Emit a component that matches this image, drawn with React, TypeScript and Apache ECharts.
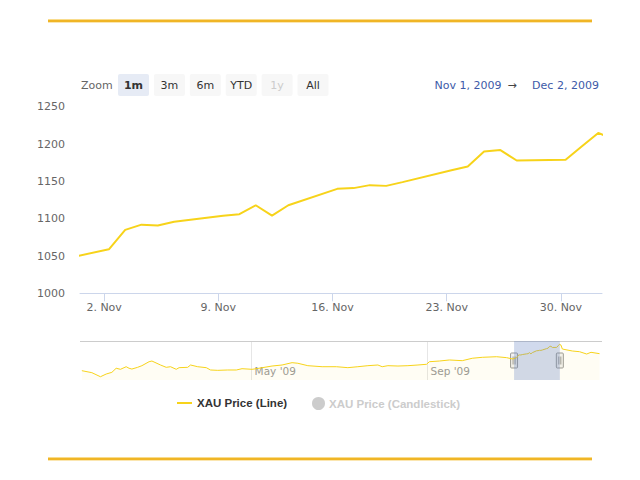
import React, { useEffect, useRef } from 'react';
import * as echarts from 'echarts';

// ---------- data ----------
// history shown only in the navigator strip (Jan–Oct 2009)
const historyDates = [
  '2009-01-02', '2009-01-09', '2009-01-15', '2009-01-19', '2009-01-23', '2009-01-26', '2009-01-29',
  '2009-02-02', '2009-02-04', '2009-02-06', '2009-02-10', '2009-02-13', '2009-02-18', '2009-02-20', '2009-02-26',
  '2009-03-02', '2009-03-05', '2009-03-09', '2009-03-11', '2009-03-17', '2009-03-19', '2009-03-24', '2009-03-30',
  '2009-04-02', '2009-04-07', '2009-04-14', '2009-04-20', '2009-04-24',
  '2009-05-01', '2009-05-04', '2009-05-15', '2009-05-22', '2009-05-29',
  '2009-06-02', '2009-06-09', '2009-06-19', '2009-06-29',
  '2009-07-07', '2009-07-14', '2009-07-21', '2009-07-28', '2009-07-31',
  '2009-08-04', '2009-08-11', '2009-08-18', '2009-08-25', '2009-08-31',
  '2009-09-02', '2009-09-09', '2009-09-16', '2009-09-25',
  '2009-10-02', '2009-10-09', '2009-10-19', '2009-10-26',
];
const historyValues = [
  909, 886, 839, 870, 890, 937, 925,
  955, 937, 928, 948, 967, 1013, 1021, 975,
  948, 955, 925, 944, 948, 975, 955, 944,
  917, 913, 917, 917, 932,
  925, 932, 963, 975, 1002,
  995, 967, 955, 955,
  944, 955, 967, 975, 955,
  967, 963, 967, 975, 983,
  1013, 1021, 1033, 1025,
  1053, 1064, 1071, 1060,
];
// daily prices around the selected month (Nov 1 – Dec 2, 2009)
const monthDates = [
  '2009-10-30', '2009-11-02', '2009-11-03', '2009-11-04', '2009-11-05', '2009-11-06',
  '2009-11-09', '2009-11-10', '2009-11-11', '2009-11-12', '2009-11-13',
  '2009-11-16', '2009-11-17', '2009-11-18', '2009-11-19', '2009-11-20',
  '2009-11-23', '2009-11-24', '2009-11-25', '2009-11-26', '2009-11-27',
  '2009-11-30', '2009-12-01', '2009-12-02', '2009-12-03',
];
const monthValues = [
  1045, 1059, 1085, 1092, 1091, 1096,
  1104, 1106, 1118, 1104, 1118,
  1140, 1141, 1145, 1144, 1149,
  1165, 1170, 1190, 1192, 1178,
  1179, 1197, 1215, 1206,
];
// rest of December (navigator only)
const tailDates = ['2009-12-04', '2009-12-11', '2009-12-16', '2009-12-21', '2009-12-24', '2009-12-30'];
const tailValues = [1160, 1137, 1129, 1102, 1122, 1106];

const weekTicks = ['2009-11-02', '2009-11-09', '2009-11-16', '2009-11-23', '2009-11-30'];
const navigatorTicks = ['2009-05-01', '2009-09-01'];
const yMin = 1000;
const yMax = 1250;
const yStep = 50;
const windowStart = '2009-10-31T12:30:00Z';
const windowEnd = '2009-12-02T12:30:00Z';
const navStart = '2009-01-01T00:00:00Z';
const navEnd = '2010-01-01T00:00:00Z';
const navMin = 801;
const navMax = 1253;
const rangeButtons = ['1m', '3m', '6m', 'YTD', '1y', 'All'];
const rangeSelected = '1m';
const rangeDisabled = '1y';
const rangeFrom = 'Nov 1, 2009';
const rangeTo = 'Dec 2, 2009';
const lineName = 'XAU Price (Line)';
const candleName = 'XAU Price (Candlestick)';

// ---------- styles ----------
const LINE_COLOR = '#f7d31a';
const FONT = "'DejaVu Sans', sans-serif";
const LEGEND_FONT = "'Liberation Sans', Arial, sans-serif";
const MONTHS = ['Jan', 'Feb', 'Mar', 'Apr', 'May', 'Jun', 'Jul', 'Aug', 'Sep', 'Oct', 'Nov', 'Dec'];
const POINT_HOUR = 'T07:00:00Z';

const toTime = (d: string) => Date.parse(d + POINT_HOUR);
const dayTime = (d: string) => Date.parse(d + 'T00:00:00Z');

export default function App() {
  const ref = useRef<HTMLDivElement>(null);

  useEffect(() => {
    if (!ref.current) return;
    const chart = echarts.init(ref.current, undefined, { renderer: 'svg' });

    const allDates = [...historyDates, ...monthDates, ...tailDates];
    const allValues = [...historyValues, ...monthValues, ...tailValues];
    const seriesData = allDates.map((d, i) => [toTime(d), allValues[i]]);

    const option: any = {
      animation: false,
      backgroundColor: '#ffffff',
      textStyle: { fontFamily: FONT },
      grid: [
        { left: 80, right: 38, top: 106.8, height: 186.5 },
        { left: 80, right: 38, top: 341, height: 39 },
      ],
      xAxis: [
        {
          type: 'value',
          gridIndex: 0,
          min: Date.parse(windowStart),
          max: Date.parse(windowEnd),
          axisLine: { show: true, lineStyle: { color: '#ccd6eb', width: 1 } },
          axisTick: { show: true, length: 8, lineStyle: { color: '#ccd6eb' }, customValues: weekTicks.map(dayTime) },
          axisLabel: {
            customValues: weekTicks.map(dayTime),
            color: '#666666',
            fontSize: 11,
            fontFamily: FONT,
            margin: 9,
            formatter: (v: number) => {
              const d = new Date(v);
              return d.getUTCDate() + '. ' + MONTHS[d.getUTCMonth()];
            },
          },
          splitLine: { show: false },
        },
        {
          type: 'value',
          gridIndex: 1,
          min: Date.parse(navStart),
          max: Date.parse(navEnd),
          axisLine: { show: false },
          axisTick: { show: false, customValues: navigatorTicks.map(dayTime) },
          axisLabel: {
            customValues: navigatorTicks.map(dayTime),
            inside: true,
            margin: 9,
            align: 'left',
            verticalAlign: 'middle',
            padding: [0, 0, 0, 3],
            color: '#999999',
            fontSize: 10.5,
            fontFamily: FONT,
            formatter: (v: number) => {
              const d = new Date(v);
              return MONTHS[d.getUTCMonth()] + " '" + String(d.getUTCFullYear()).slice(2);
            },
          },
          splitLine: { show: true, lineStyle: { color: '#e6e6e6', width: 1 } },
        },
      ],
      yAxis: [
        {
          type: 'value',
          gridIndex: 0,
          min: yMin,
          max: yMax,
          interval: yStep,
          axisLine: { show: false },
          axisTick: { show: false },
          splitLine: { show: false },
          axisLabel: { color: '#666666', fontSize: 11, fontFamily: FONT, margin: 15, formatter: (v: number) => String(v) },
        },
        {
          type: 'value',
          gridIndex: 1,
          min: navMin,
          max: navMax,
          show: false,
          splitLine: { show: false },
        },
      ],
      legend: [
        {
          data: [{ name: lineName }],
          left: 177,
          top: 397,
          padding: 0,
          icon: 'rect',
          itemWidth: 15,
          itemHeight: 2,
          inactiveColor: '#cccccc',
          textStyle: { fontFamily: LEGEND_FONT, fontSize: 11.5, fontWeight: 'bold', color: '#333333' },
        },
        {
          data: [{ name: candleName, icon: 'circle' }],
          left: 312,
          top: 397,
          padding: 0,
          itemWidth: 11,
          itemHeight: 11,
          inactiveColor: '#cccccc',
          inactiveBorderColor: '#cccccc',
          selected: { [candleName]: false },
          textStyle: { fontFamily: LEGEND_FONT, fontSize: 11.5, fontWeight: 'bold', color: '#333333' },
        },
      ],
      series: [
        {
          name: lineName,
          type: 'line',
          xAxisIndex: 0,
          yAxisIndex: 0,
          data: seriesData,
          symbol: 'none',
          clip: true,
          color: LINE_COLOR,
          lineStyle: { color: LINE_COLOR, width: 2 },
          itemStyle: { color: LINE_COLOR },
        },
        {
          name: candleName,
          type: 'candlestick',
          xAxisIndex: 0,
          yAxisIndex: 0,
          data: [],
        },
        {
          name: 'Navigator',
          type: 'line',
          xAxisIndex: 1,
          yAxisIndex: 1,
          data: seriesData,
          symbol: 'none',
          silent: true,
          color: LINE_COLOR,
          lineStyle: { color: LINE_COLOR, width: 1 },
          areaStyle: { color: 'rgba(247, 211, 26, 0.07)', origin: 'start' },
          markArea: {
            silent: true,
            z: 10,
            itemStyle: { color: 'rgba(102, 133, 194, 0.3)' },
            data: [[{ xAxis: Date.parse(windowStart) }, { xAxis: Date.parse(windowEnd) }]],
          },
        },
      ],
    };
    chart.setOption(option);

    const hx0 = chart.convertToPixel({ xAxisIndex: 1 }, Date.parse(windowStart)) as number;
    const hx1 = chart.convertToPixel({ xAxisIndex: 1 }, Date.parse(windowEnd)) as number;
    const handle = (cx: number) => ({
      type: 'group',
      z: 20,
      children: [
        { type: 'rect', shape: { x: cx - 3.5, y: 353, width: 7, height: 15, r: 1 }, style: { fill: '#f2f2f2', stroke: '#999999', lineWidth: 1 } },
        { type: 'line', shape: { x1: cx - 1, y1: 356.5, x2: cx - 1, y2: 364.5 }, style: { stroke: '#999999', lineWidth: 1 } },
        { type: 'line', shape: { x1: cx + 1, y1: 356.5, x2: cx + 1, y2: 364.5 }, style: { stroke: '#999999', lineWidth: 1 } },
      ],
    });

    const buttons = rangeButtons.map((b, i) => {
      const x = 118 + i * 35.9;
      const sel = b === rangeSelected;
      const dis = b === rangeDisabled;
      return {
        type: 'group',
        children: [
          { type: 'rect', shape: { x, y: 74, width: 31, height: 22, r: 2 }, style: { fill: sel ? '#e6ebf5' : '#f7f7f7' } },
          {
            type: 'text',
            style: {
              text: b, x: x + 15.5, y: 85, align: 'center', verticalAlign: 'middle',
              fill: dis ? '#cccccc' : '#333333', fontSize: 11, fontFamily: FONT, fontWeight: sel ? 'bold' : 'normal',
            },
          },
        ],
      };
    });

    chart.setOption({
      graphic: {
        elements: [
          { type: 'rect', shape: { x: 48, y: 19, width: 544, height: 1 }, style: { fill: '#f9dc8c' } },
          { type: 'rect', shape: { x: 48, y: 20, width: 544, height: 2 }, style: { fill: '#f0b526' } },
          { type: 'rect', shape: { x: 48, y: 22, width: 544, height: 1 }, style: { fill: '#fbe6b0' } },
          { type: 'rect', shape: { x: 48, y: 457, width: 544, height: 1 }, style: { fill: '#f9dc8c' } },
          { type: 'rect', shape: { x: 48, y: 458, width: 544, height: 2 }, style: { fill: '#f0b526' } },
          { type: 'rect', shape: { x: 48, y: 460, width: 544, height: 1 }, style: { fill: '#fbe6b0' } },
          { type: 'text', style: { text: 'Zoom', x: 81, y: 85, verticalAlign: 'middle', fill: '#666666', fontSize: 11, fontFamily: FONT } },
          ...buttons,
          { type: 'text', style: { text: rangeFrom, x: 468, y: 85, align: 'center', verticalAlign: 'middle', fill: '#3d5aa8', fontSize: 11, fontFamily: FONT } },
          { type: 'text', style: { text: '\u2192', x: 512, y: 85, align: 'center', verticalAlign: 'middle', fill: '#444444', fontSize: 11, fontFamily: FONT } },
          { type: 'text', style: { text: rangeTo, x: 565.5, y: 85, align: 'center', verticalAlign: 'middle', fill: '#3d5aa8', fontSize: 11, fontFamily: FONT } },
          { type: 'line', shape: { x1: 80, y1: 341.5, x2: 602, y2: 341.5 }, style: { stroke: '#cccccc', lineWidth: 1 } },
          handle(hx0),
          handle(hx1),
        ],
      },
    });

    return () => chart.dispose();
  }, []);

  return <div ref={ref} style={{ position: 'fixed', left: 0, top: 0, width: 640, height: 480 }} />;
}
